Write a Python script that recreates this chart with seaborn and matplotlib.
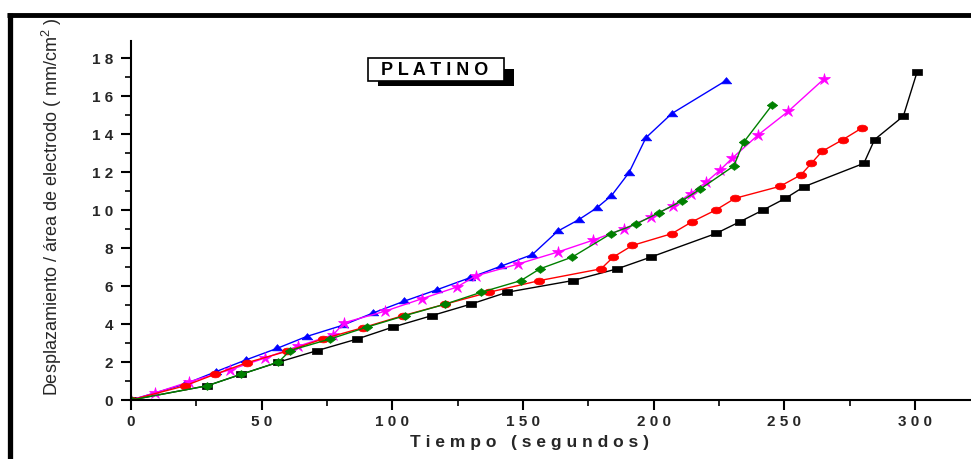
import numpy as np
import pandas as pd
import matplotlib
matplotlib.use("Agg")
import matplotlib.pyplot as plt
from matplotlib.lines import Line2D
from matplotlib.patches import Rectangle
import seaborn as sns

# ---- data (time in s, displacement / electrode area in mm/cm^2) ----
black_x = [0, 29.2, 42.1, 56.4, 71.3, 86.6, 100.1, 115.2, 130.0, 144.0, 169.0, 186.1,
           199.0, 223.9, 233.1, 242.0, 250.5, 257.6, 280.5, 284.6, 295.6, 300.9]
black_y = [0, 0.75, 1.35, 1.99, 2.60, 3.21, 3.83, 4.44, 5.04, 5.67, 6.28, 6.90,
           7.52, 8.76, 9.38, 10.00, 10.61, 11.22, 12.45, 13.70, 14.93, 17.27]

red_x = [0, 20.7, 32.1, 44.3, 59.6, 73.4, 88.9, 104.2, 120.2, 137.1, 156.3, 179.9,
         184.6, 191.9, 207.0, 214.8, 223.9, 231.2, 248.4, 256.4, 260.4, 264.5, 272.5, 279.9]
red_y = [0, 0.75, 1.35, 1.96, 2.56, 3.21, 3.81, 4.44, 5.04, 5.67, 6.28, 6.90,
         7.52, 8.13, 8.75, 9.38, 10.00, 10.61, 11.24, 11.84, 12.45, 13.08, 13.70, 14.32]

blue_x = [0, 20.7, 32.5, 44.0, 55.8, 67.2, 81.0, 92.7, 104.4, 117.3, 129.9, 141.6,
          153.6, 163.3, 171.3, 178.2, 183.9, 190.6, 197.1, 207.0, 227.7]
blue_y = [0, 0.84, 1.49, 2.11, 2.71, 3.34, 3.93, 4.58, 5.19, 5.81, 6.44, 7.04,
          7.65, 8.88, 9.48, 10.10, 10.75, 11.96, 13.80, 15.07, 16.80]

green_x = [0, 29.2, 42.1, 56.4, 60.9, 76.2, 90.2, 104.9, 120.2, 134.1, 149.2, 156.5,
           168.9, 183.7, 193.1, 202.0, 210.8, 217.7, 230.7, 234.5, 245.5]
green_y = [0, 0.75, 1.35, 1.99, 2.60, 3.21, 3.83, 4.44, 5.04, 5.67, 6.28, 6.90,
           7.52, 8.75, 9.24, 9.85, 10.47, 11.08, 12.31, 13.56, 15.54]

magenta_x = [0, 9.2, 22.3, 37.9, 51.3, 64.0, 77.4, 81.5, 97.2, 111.2, 124.7, 132.0,
             148.1, 163.5, 176.7, 188.7, 199.0, 207.3, 214.2, 220.2, 225.5, 230.1,
             240.1, 251.6, 265.4]
magenta_y = [0, 0.37, 0.96, 1.59, 2.21, 2.83, 3.43, 4.06, 4.67, 5.32, 5.94, 6.53,
             7.15, 7.79, 8.40, 9.01, 9.63, 10.22, 10.85, 11.47, 12.10, 12.72,
             13.95, 15.19, 16.91]

x_ticks = [0, 50, 100, 150, 200, 250, 300]
x_tick_labels = ["0", "5 0", "1 0 0", "1 5 0", "2 0 0", "2 5 0", "3 0 0"]
y_ticks = [0, 2, 4, 6, 8, 10, 12, 14, 16, 18]
y_tick_labels = ["0", "2", "4", "6", "8", "1 0", "1 2", "1 4", "1 6", "1 8"]

title_text = "P L A T I N O"
x_label = "T i e m p o   ( s e g u n d o s )"
y_label = "Desplazamiento / área de electrodo ( mm/cm$^{2}$ )"

sns.set_theme(style="white")
plt.rcParams["font.family"] = ["Liberation Sans", "DejaVu Sans"]
plt.rcParams["mathtext.fontset"] = "custom"
plt.rcParams["mathtext.rm"] = "Liberation Sans"

fig = plt.figure(figsize=(9.71, 4.60), dpi=100)
ax = fig.add_axes([131 / 971, 1 - 401 / 460, 1 - 131 / 971, (401 - 41.7) / 460])

rect_marker = [(-1, -0.55), (1, -0.55), (1, 0.55), (-1, 0.55), (-1, -0.55)]
th = np.linspace(0, 2 * np.pi, 30)
ell_marker = list(zip(np.cos(th), 0.65 * np.sin(th)))
dia_marker = [(-1, 0), (0, 0.75), (1, 0), (0, -0.75), (-1, 0)]
tri_marker = [(-1, -0.45), (1, -0.45), (0, 0.75), (-1, -0.45)]

series = [
    (black_x, black_y, "black", rect_marker, 7.5),
    (blue_x, blue_y, "#0000ff", tri_marker, 7.5),
    (magenta_x, magenta_y, "#ff00ff", "*", 9.0),
    (red_x, red_y, "#ff0000", ell_marker, 7.5),
    (green_x, green_y, "#008000", dia_marker, 7.5),
]
for xs, ys, col, mk, ms in series:
    df = pd.DataFrame({"t": xs, "d": ys})
    sns.lineplot(data=df, x="t", y="d", ax=ax, color=col, lw=1.0, marker=mk,
                 markersize=ms, markeredgewidth=0.5, markeredgecolor=col,
                 markerfacecolor=col, sort=False, estimator=None, legend=False)

ax.set_xlim(0, 321.5)
ax.set_ylim(0, 18.9)
ax.set_xticks(x_ticks)
ax.set_xticklabels(x_tick_labels, fontsize=11, fontweight="bold")
ax.set_yticks(y_ticks)
ax.set_yticklabels(y_tick_labels, fontsize=11, fontweight="bold")
ax.set_xticks(np.arange(25, 325, 50), minor=True)
ax.set_yticks(np.arange(1, 19, 2), minor=True)
ax.tick_params(which="major", direction="out", length=7, width=1.5, color="black",
               bottom=True, left=True)
ax.tick_params(axis="x", which="major", pad=3)
ax.tick_params(axis="y", which="major", pad=6)
ax.tick_params(which="minor", direction="out", length=4, width=1.2, color="black",
               bottom=True, left=True)
for s in ["top", "right"]:
    ax.spines[s].set_visible(False)
for s in ["left", "bottom"]:
    ax.spines[s].set_color("black")
    ax.spines[s].set_linewidth(1.5)

ax.set_xlabel(x_label, fontsize=12.5, fontweight="bold")
ax.xaxis.set_label_coords((529 - 131) / 840, -0.095)
ax.set_ylabel(y_label, fontsize=13)
ax.yaxis.set_label_coords(-0.080, 0.54)

# title box with shadow
fw, fh = 971, 460
def fx(px):
    return px / fw
def fy(py):
    return 1 - py / fh
fig.add_artist(Rectangle((fx(377.7), fy(87.3)), fx(514.3) - fx(377.7), fy(70) - fy(87.3),
                         transform=fig.transFigure, facecolor="black", edgecolor="none"))
fig.add_artist(Rectangle((fx(367.7), fy(81.7)), fx(504) - fx(367.7), fy(59.3) - fy(81.7),
                         transform=fig.transFigure, facecolor="white", edgecolor="black", lw=1.2))
fig.text(fx(435), fy(70.5), title_text, ha="center", va="center", fontsize=13,
         fontweight="bold", color="black")

# outer frame lines
fig.add_artist(Line2D([fx(7), 1.0], [fy(15.5), fy(15.5)], color="black", lw=3.5,
                      transform=fig.transFigure, solid_capstyle="butt"))
fig.add_artist(Line2D([fx(9.5), fx(9.5)], [fy(14), 0.0], color="black", lw=3.8,
                      transform=fig.transFigure, solid_capstyle="butt"))

fig.savefig("out.png", dpi=100)
